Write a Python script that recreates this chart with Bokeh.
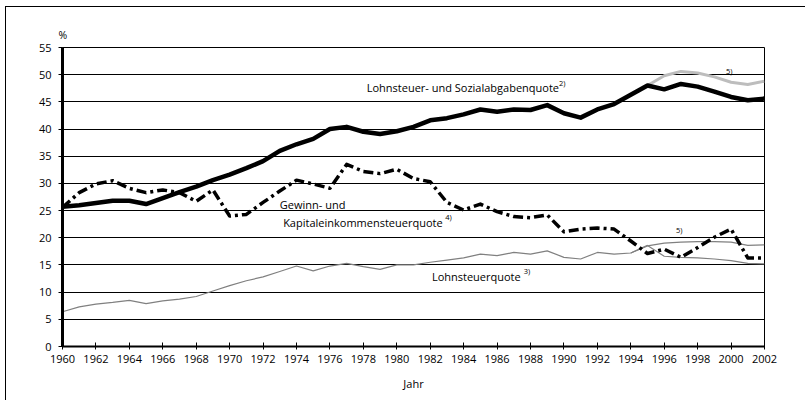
from bokeh.plotting import figure
from bokeh.models import FixedTicker, Label, Range1d
from bokeh.embed import file_html
from bokeh.resources import INLINE

# ---------------- data ----------------
years = list(range(1960, 2003))

sozialabgabenquote = [25.7, 26.0, 26.4, 26.8, 26.8, 26.2, 27.3, 28.4, 29.4, 30.6,
                      31.6, 32.8, 34.1, 36.0, 37.2, 38.2, 40.0, 40.4, 39.5, 39.1,
                      39.6, 40.4, 41.6, 42.0, 42.7, 43.6, 43.2, 43.6, 43.5, 44.4,
                      42.9, 42.1, 43.6, 44.6, 46.3, 48.0, 47.3, 48.3, 47.8, 46.9,
                      45.9, 45.3, 45.6]

gewinnquote = [25.6, 28.3, 29.9, 30.5, 29.1, 28.3, 28.8, 28.3, 26.7, 28.8,
               24.0, 24.3, 26.5, 28.6, 30.6, 29.9, 29.1, 33.5, 32.2, 31.8,
               32.6, 30.9, 30.3, 26.5, 25.1, 26.2, 24.8, 23.9, 23.7, 24.2,
               21.1, 21.6, 21.8, 21.6, 19.4, 17.1, 17.9, 16.4, 18.2, 20.1,
               21.6, 16.3, 16.3]

lohnsteuerquote = [6.4, 7.3, 7.8, 8.1, 8.5, 7.9, 8.4, 8.7, 9.2, 10.2,
                   11.2, 12.1, 12.8, 13.8, 14.8, 13.9, 14.8, 15.3, 14.7, 14.2,
                   15.0, 15.0, 15.5, 15.9, 16.3, 17.0, 16.7, 17.3, 17.0, 17.6,
                   16.4, 16.1, 17.3, 17.0, 17.2, 18.6, 16.6, 16.4, 16.3, 16.1,
                   15.8, 15.3, 15.2]

years_5a = list(range(1995, 2003))
sozialabgabenquote_5 = [48.0, 49.8, 50.6, 50.3, 49.6, 48.6, 48.2, 48.8]

years_5b = list(range(1994, 2003))
lohnsteuerquote_5 = [17.2, 18.5, 19.0, 19.2, 19.3, 19.3, 19.2, 18.6, 18.7]

x_ticks = list(range(1960, 2003, 2))
y_ticks = list(range(0, 56, 5))

FONT = "Open Sans"

p = figure(width=800, height=394, output_backend="svg", toolbar_location=None,
           x_range=Range1d(1960, 2002), y_range=Range1d(0, 55),
           min_border_left=56, min_border_right=42, min_border_top=40,
           min_border_bottom=55,
           styles={"margin-left": "5px", "margin-top": "6px",
                   "border-left": "1px solid black", "border-top": "1px solid black"})

p.title.text = "%"
p.title.text_font = FONT
p.title.text_font_size = "10.5px"
p.title.text_font_style = "normal"
p.title.text_color = "black"
p.title.align = "left"
p.title.offset = -4
p.title.standoff = 12

p.background_fill_color = "white"
p.border_fill_color = "white"
p.outline_line_color = "black"
p.outline_line_width = 1

p.xgrid.grid_line_color = None
p.ygrid.grid_line_color = "black"
p.ygrid.grid_line_width = 1
p.ygrid.ticker = FixedTicker(ticks=y_ticks)

p.xaxis.ticker = FixedTicker(ticks=x_ticks)
p.yaxis.ticker = FixedTicker(ticks=y_ticks)
for ax in (p.xaxis[0], p.yaxis[0]):
    ax.axis_line_color = "black"
    ax.major_tick_line_color = "black"
    ax.minor_tick_line_color = None
    ax.major_label_text_font = FONT
    ax.major_label_text_font_size = "11px"
    ax.major_label_text_color = "black"
p.yaxis.axis_line_width = 3
p.xaxis.axis_line_width = 2
p.yaxis.major_tick_out = 4
p.yaxis.major_tick_in = 0
p.yaxis.major_label_standoff = 7
p.xaxis.major_tick_out = 3
p.xaxis.major_tick_in = 4
p.xaxis.major_label_standoff = 5
p.xaxis.axis_label = "Jahr"
p.xaxis.axis_label_text_font = FONT
p.xaxis.axis_label_text_font_size = "11px"
p.xaxis.axis_label_text_font_style = "normal"
p.xaxis.axis_label_text_color = "black"
p.xaxis.axis_label_standoff = 10

# ---------------- lines ----------------
p.line(years, lohnsteuerquote, line_color="#808080", line_width=1.2)
p.line(years_5b, lohnsteuerquote_5, line_color="#808080", line_width=1.2)
p.line(years_5a, sozialabgabenquote_5, line_color="#bdbdbd", line_width=3,
       line_join="round")
p.line(years, sozialabgabenquote, line_color="black", line_width=4.5,
       line_join="round", line_cap="round")
p.line(years, gewinnquote, line_color="black", line_width=3.5,
       line_dash="10 4 3 4", line_join="round")

# ---------------- labels ----------------
def lab(x, y, text, size="11px", align="left"):
    p.add_layout(Label(x=x, y=y, text=text, text_font=FONT, text_font_size=size,
                       text_color="black", text_align=align,
                       text_baseline="middle"))

lab(1978.2, 47.6, "Lohnsteuer- und Sozialabgabenquote")
lab(1989.7, 48.5, "2)", size="7.5px")
lab(1973.0, 26.1, "Gewinn- und")
lab(1973.2, 22.8, "Kapitaleinkommensteuerquote")
lab(1982.9, 23.9, "4)", size="7.5px")
lab(1982.1, 12.8, "Lohnsteuerquote")
lab(1987.6, 13.9, "3)", size="7.5px")
lab(1999.7, 50.6, "5)", size="7.5px")
lab(1996.7, 21.5, "5)", size="7.5px")

open("out.html", "w").write(file_html(p, INLINE))
